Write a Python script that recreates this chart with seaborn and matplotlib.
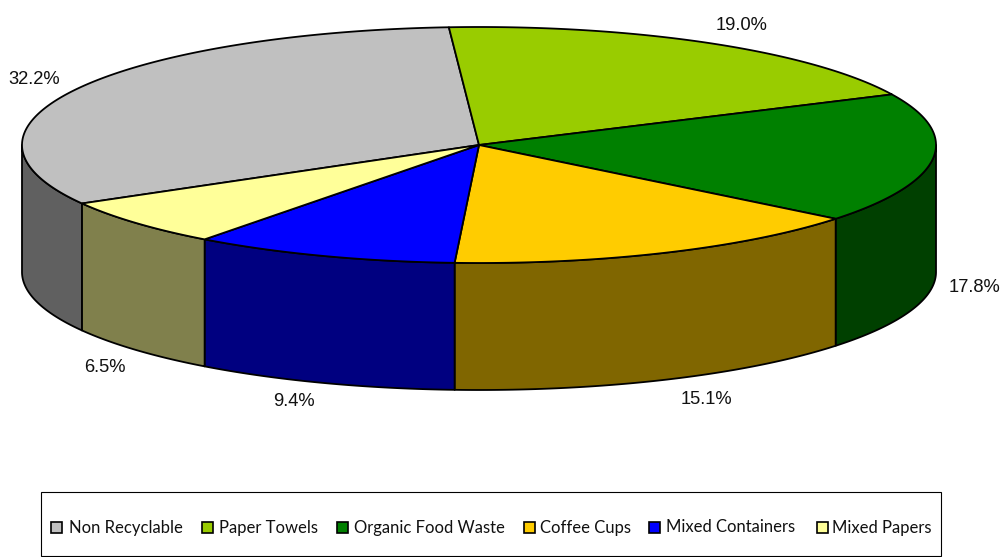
import numpy as np
import matplotlib
matplotlib.use("Agg")
import matplotlib.pyplot as plt
from matplotlib.patches import Rectangle
import seaborn as sns

categories = ["Non Recyclable", "Paper Towels", "Organic Food Waste", "Coffee Cups", "Mixed Containers", "Mixed Papers"]
values = [32.2, 19.0, 17.8, 15.1, 9.4, 6.5]
labels = ["32.2%", "19.0%", "17.8%", "15.1%", "9.4%", "6.5%"]
top_colors = ["#C0C0C0", "#99CC00", "#008000", "#FFCC00", "#0000FF", "#FFFF99"]
side_colors = ["#606060", "#4C6600", "#004000", "#806600", "#000080", "#80804C"]

sns.set_theme(style="white")
W, H = 1001, 557
fig = plt.figure(figsize=(W / 100, H / 100), dpi=100, facecolor="white")
ax = fig.add_axes([0, 0, 1, 1])
ax.set_xlim(0, W)
ax.set_ylim(H, 0)
ax.axis("off")

cx, cy, rx, ry, depth = 479, 145, 457, 118, 127
start = 240.3 - 360  # the first slice ends at about -4 degrees


def pt(t, dy=0.0):
    r = np.radians(t)
    return cx + rx * np.sin(r), cy - ry * np.cos(r) + dy


bounds = start + np.concatenate([[0], np.cumsum(values)]) * 360 / sum(values)
pal = sns.color_palette(top_colors)
side = sns.color_palette(side_colors)

# sides: only the part of each slice on the front half of the ellipse
for i in range(len(values)):
    for shift in (0, 360):
        a, b = max(bounds[i] + shift, 90), min(bounds[i + 1] + shift, 270)
        if b <= a:
            continue
        ts = np.linspace(a, b, 120)
        x, y = pt(ts)
        x2, y2 = pt(ts[::-1], depth)
        ax.fill(np.r_[x, x2], np.r_[y, y2], facecolor=side[i], edgecolor="black", lw=1.3, joinstyle="round", zorder=2)

# tops
for i in range(len(values)):
    ts = np.linspace(bounds[i], bounds[i + 1], 200)
    x, y = pt(ts)
    ax.fill(np.r_[cx, x], np.r_[cy, y], facecolor=pal[i], edgecolor="black", lw=1.3, joinstyle="round", zorder=3)

# percentage labels
label_pos = [(34, 80), (742, 25), (975, 288), (706, 399), (294, 402), (105, 368)]
for s, (x, y) in zip(labels, label_pos):
    ax.text(x, y, s, ha="center", va="center", fontsize=13.2, family="Liberation Sans", color="#111111", zorder=5)

# legend box
ax.add_patch(Rectangle((41, 492), 900, 64, facecolor="white", edgecolor="black", lw=0.8, zorder=1))
swatch_x = [51, 202, 337, 524, 649, 817]
text_x = [69, 219, 354, 540, 666, 832]
for xs, xt, c, name in zip(swatch_x, text_x, pal, categories):
    ax.add_patch(Rectangle((xs, 522), 11, 11, facecolor=c, edgecolor="black", lw=1.2, zorder=4))
    ax.text(xt, 527.5, name, ha="left", va="center", fontsize=12, family="Lato", color="#111111", zorder=5)

fig.savefig("out.png", dpi=100, facecolor="white")
